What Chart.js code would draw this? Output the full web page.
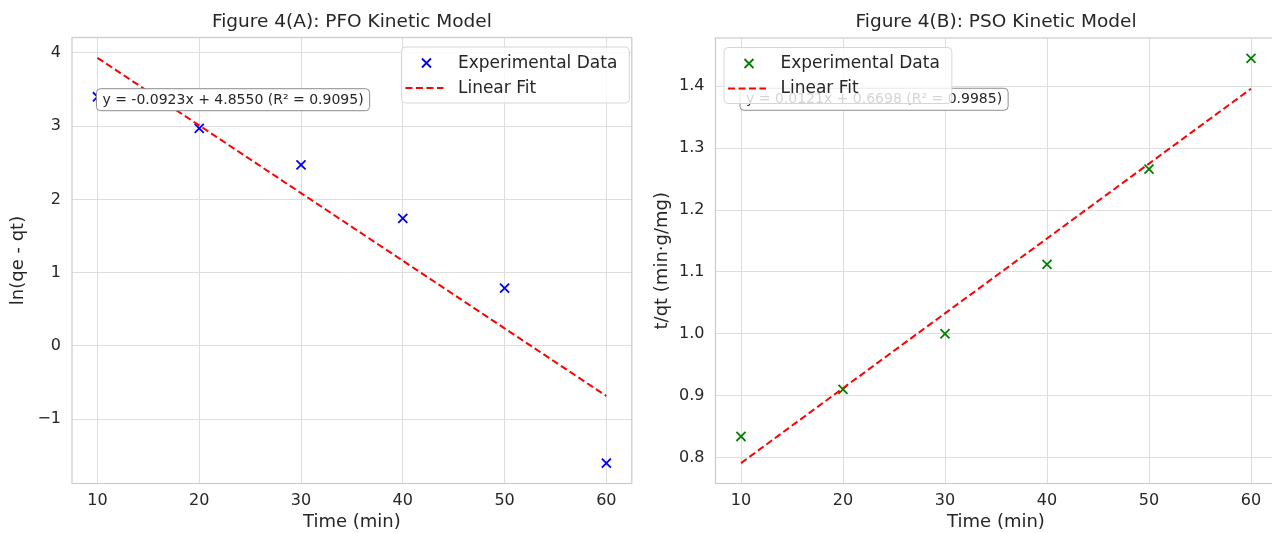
<!DOCTYPE html>
<html>
<head>
<meta charset="utf-8">
<script src="https://cdn.jsdelivr.net/npm/chart.js@4.4.1/dist/chart.umd.min.js"></script>
<style>
  html, body { margin: 0; padding: 0; background: #fff; overflow: hidden; }
  .panel { position: absolute; top: 0; height: 533px; overflow: hidden; }
  #wrapA { left: 0; width: 640px; }
  #wrapB { left: 640px; width: 632px; }
</style>
</head>
<body>
<div class="panel" id="wrapA"><canvas id="pfo" width="640" height="533"></canvas></div>
<div class="panel" id="wrapB"><canvas id="pso" width="650" height="533"></canvas></div>
<script>
// values
const timeMin = [10, 20, 30, 40, 50, 60];
const pfoValues = [3.40, 2.97, 2.47, 1.74, 0.79, -1.60];
const pfoFit = [3.932, 3.009, 2.086, 1.163, 0.240, -0.683];
const psoValues = [0.834, 0.910, 1.000, 1.112, 1.266, 1.445];
const psoFit = [0.791, 0.912, 1.033, 1.154, 1.275, 1.396];
const xTicks = [10, 20, 30, 40, 50, 60];
const pfoYTicks = [-1, 0, 1, 2, 3, 4];
const psoYTicks = [0.8, 0.9, 1.0, 1.1, 1.2, 1.3, 1.4];
const legendLabels = ["Experimental Data", "Linear Fit"];

const FONT = '"DejaVu Sans", sans-serif';
const INK = "#262626";
Chart.defaults.font.family = FONT;
Chart.defaults.color = INK;

function points(xs, ys) {
  return xs.map((x, i) => ({ x: x, y: ys[i] }));
}

function roundRect(ctx, x, y, w, h, r) {
  ctx.beginPath();
  ctx.moveTo(x + r, y);
  ctx.lineTo(x + w - r, y);
  ctx.quadraticCurveTo(x + w, y, x + w, y + r);
  ctx.lineTo(x + w, y + h - r);
  ctx.quadraticCurveTo(x + w, y + h, x + w - r, y + h);
  ctx.lineTo(x + r, y + h);
  ctx.quadraticCurveTo(x, y + h, x, y + h - r);
  ctx.lineTo(x, y + r);
  ctx.quadraticCurveTo(x, y, x + r, y);
  ctx.closePath();
}

function drawCross(ctx, cx, cy, half, color) {
  ctx.save();
  ctx.strokeStyle = color;
  ctx.lineWidth = 1.8;
  ctx.beginPath();
  ctx.moveTo(cx - half, cy - half); ctx.lineTo(cx + half, cy + half);
  ctx.moveTo(cx - half, cy + half); ctx.lineTo(cx + half, cy - half);
  ctx.stroke();
  ctx.restore();
}

// title, frame, equation box and legend drawn on top of the chart
function overlay(opts) {
  return {
    id: "overlay",
    beforeDatasetsDraw(chart) {
      const { ctx, chartArea: a } = chart;
      ctx.save();
      ctx.strokeStyle = "#cccccc";
      ctx.lineWidth = 1.25;
      ctx.strokeRect(a.left, a.top, a.right - a.left, a.bottom - a.top);
      ctx.restore();
    },
    afterDatasetsDraw(chart) {
      const { ctx, chartArea: a, scales } = chart;
      ctx.save();
      // title
      ctx.fillStyle = INK;
      ctx.font = "18.5px " + FONT;
      ctx.textAlign = "center";
      ctx.textBaseline = "middle";
      ctx.fillText(opts.title, (a.left + a.right) / 2, 22);

      // equation box
      ctx.font = "14px " + FONT;
      ctx.textAlign = "left";
      const tw = ctx.measureText(opts.note).width;
      const bx = scales.x.getPixelForValue(opts.noteX) - 1;
      const by = scales.y.getPixelForValue(opts.noteY) - 11;
      roundRect(ctx, bx, by, tw + 12, 22, 4);
      ctx.fillStyle = "#ffffff";
      ctx.fill();
      ctx.strokeStyle = "#8c8c8c";
      ctx.lineWidth = 1;
      ctx.stroke();
      ctx.fillStyle = INK;
      ctx.fillText(opts.note, bx + 6, by + 11.5);

      // legend
      ctx.font = "17px " + FONT;
      const lw = Math.max(...legendLabels.map(t => ctx.measureText(t).width));
      const w = 56.5 + lw + 12, h = 56;
      const lx = opts.legendRight ? a.right - 2.5 - w : a.left + 8.5;
      const ly = a.top + 9.5;
      roundRect(ctx, lx, ly, w, h, 4);
      ctx.fillStyle = "rgba(255,255,255,0.8)";
      ctx.fill();
      ctx.strokeStyle = "#d6d6d6";
      ctx.lineWidth = 1;
      ctx.stroke();
      drawCross(ctx, lx + 25, ly + 16, 4.5, opts.markColor);
      ctx.strokeStyle = "#ff0000";
      ctx.lineWidth = 2;
      ctx.setLineDash([7, 3.5]);
      ctx.beginPath();
      ctx.moveTo(lx + 4, ly + 41);
      ctx.lineTo(lx + 42, ly + 41);
      ctx.stroke();
      ctx.setLineDash([]);
      ctx.fillStyle = INK;
      ctx.fillText(legendLabels[0], lx + 56.5, ly + 16.5);
      ctx.fillText(legendLabels[1], lx + 56.5, ly + 41.5);
      ctx.restore();
    }
  };
}

function makeChart(id, cfg) {
  return new Chart(document.getElementById(id), {
    type: "scatter",
    data: {
      datasets: [
        {
          label: legendLabels[1],
          data: points(timeMin, cfg.fit),
          showLine: true,
          borderColor: "#ff0000",
          borderWidth: 2,
          borderDash: [7, 3.5],
          pointRadius: 0,
          order: 0
        },
        {
          label: legendLabels[0],
          data: points(timeMin, cfg.values),
          pointStyle: "crossRot",
          pointRadius: 6.4,
          pointBorderWidth: 1.8,
          borderColor: cfg.markColor,
          backgroundColor: cfg.markColor,
          order: 1
        }
      ]
    },
    options: {
      responsive: false,
      animation: false,
      layout: { padding: cfg.padding },
      plugins: { legend: { display: false }, title: { display: false }, tooltip: { enabled: false } },
      scales: {
        x: {
          type: "linear",
          min: 7.5,
          max: 62.5,
          afterBuildTicks: s => { s.ticks = xTicks.map(v => ({ value: v })); },
          afterFit: s => { s.height = 49.5; },
          grid: { color: "#dedede", lineWidth: 1, drawTicks: false },
          border: { display: false },
          ticks: { font: { size: 16 }, padding: 8, color: INK },
          title: { display: true, text: "Time (min)", font: { size: 18 }, padding: { top: 0, bottom: 0 }, color: INK }
        },
        y: {
          type: "linear",
          min: cfg.yMin,
          max: cfg.yMax,
          afterBuildTicks: s => { s.ticks = cfg.yTicks.map(v => ({ value: v })); },
          afterFit: s => { s.width = cfg.yWidth; },
          grid: { color: "#dedede", lineWidth: 1, drawTicks: false },
          border: { display: false },
          ticks: { font: { size: 16 }, padding: 11, color: INK, callback: cfg.fmt },
          title: { display: true, text: cfg.yTitle, font: { size: 18 }, padding: { top: cfg.yTitlePad, bottom: 0 }, color: INK }
        }
      }
    },
    plugins: [overlay(cfg)]
  });
}

makeChart("pfo", {
  title: "Figure 4(A): PFO Kinetic Model",
  values: pfoValues,
  fit: pfoFit,
  markColor: "#0000ff",
  yMin: -1.877,
  yMax: 4.209,
  yTicks: pfoYTicks,
  yWidth: 72,
  yTitle: "ln(qe - qt)",
  yTitlePad: 8,
  fmt: v => (v < 0 ? "\u2212" + Math.abs(v) : String(v)),
  padding: { top: 37.5, right: 8, left: 0, bottom: 0 },
  note: "y = -0.0923x + 4.8550 (R\u00b2 = 0.9095)",
  noteX: 10,
  noteY: 3.36,
  legendRight: true
});

makeChart("pso", {
  title: "Figure 4(B): PSO Kinetic Model",
  values: psoValues,
  fit: psoFit,
  markColor: "#008000",
  yMin: 0.758,
  yMax: 1.478,
  yTicks: psoYTicks,
  yWidth: 75.5,
  yTitle: "t/qt (min\u00b7g/mg)",
  yTitlePad: 12,
  fmt: v => v.toFixed(1),
  padding: { top: 38, right: 13.5, left: 0, bottom: 0 },
  note: "y = 0.0121x + 0.6698 (R\u00b2 = 0.9985)",
  noteX: 10,
  noteY: 1.379,
  legendRight: false
});
</script>
</body>
</html>
